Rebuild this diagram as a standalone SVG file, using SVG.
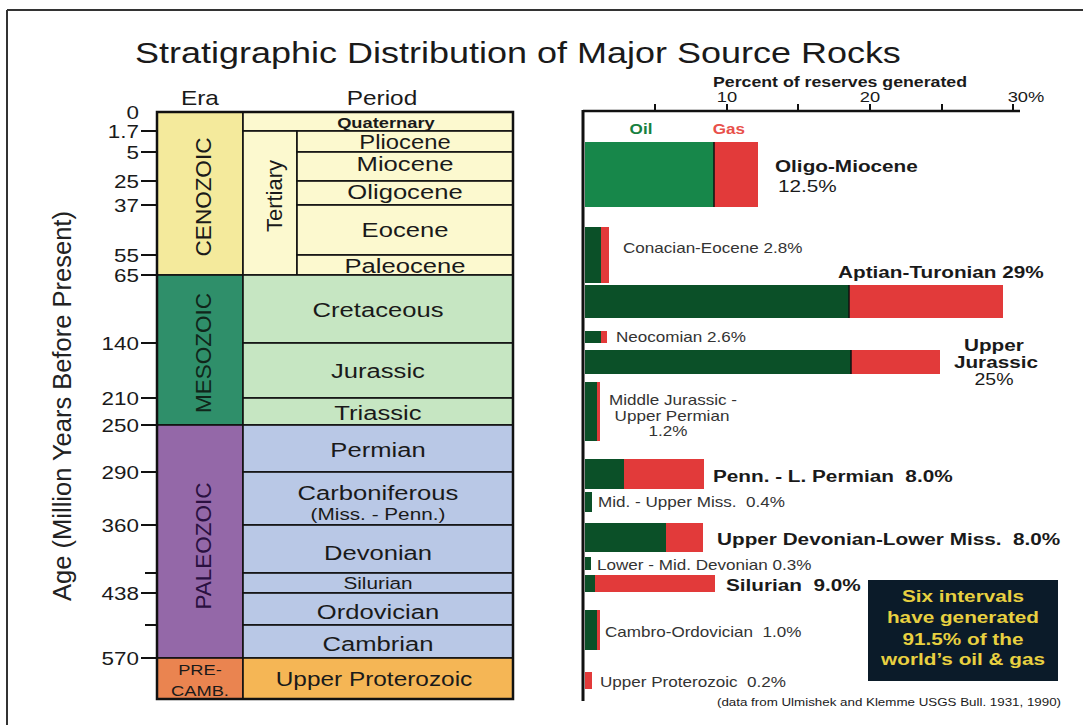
<svg xmlns="http://www.w3.org/2000/svg" width="1090" height="725" viewBox="0 0 1090 725">
<style>
text{font-family:"Liberation Sans",Arial,sans-serif;fill:#1a1a1a}
.L{transform-box:fill-box;transform-origin:0% 50%;transform:scaleX(1.22)}
.C{transform-box:fill-box;transform-origin:50% 50%;transform:scaleX(1.22);text-anchor:middle}
.R{transform-box:fill-box;transform-origin:100% 50%;transform:scaleX(1.18);text-anchor:end}
.tl{font-size:19px}
.hd{font-size:20px}
.pl{font-size:21px}
.era{font-size:22.5px;text-anchor:middle}
.cell{stroke:#111;stroke-width:1.6}
.tick{stroke:#111;stroke-width:2}
.big{font-size:17px;font-weight:bold}
.sm{font-size:14px;fill:#333}
.oil{fill:#0b5028}
.oil2{fill:#17874a}
.gas{fill:#e23a3a}
.sep{stroke:#111;stroke-width:1.5}
.box{font-size:17px;font-weight:bold;fill:#e8d040}
</style>
<rect width="1090" height="725" fill="#fff"/>
<g id="frame"><line x1="7" y1="10" x2="1083" y2="10" stroke="#333" stroke-width="2"/><line x1="7" y1="10" x2="7" y2="725" stroke="#333" stroke-width="2"/></g>
<g id="title"><text class="C" x="518" y="63" font-size="29.5">Stratigraphic Distribution of Major Source Rocks</text></g>
<g id="axis-title"><text transform="translate(71,406) rotate(-90)" font-size="25.5" text-anchor="middle" style="fill:#222">Age (Million Years Before Present)</text></g>
<g id="headers"><text class="hd C" x="200" y="105">Era</text><text class="hd C" x="382" y="105">Period</text></g>
<g id="age-ticks">
<line class="tick" x1="141" y1="131" x2="157" y2="131"/><line class="tick" x1="141" y1="152" x2="157" y2="152"/><line class="tick" x1="141" y1="181" x2="157" y2="181"/><line class="tick" x1="141" y1="205" x2="157" y2="205"/><line class="tick" x1="141" y1="255" x2="157" y2="255"/><line class="tick" x1="141" y1="275" x2="157" y2="275"/><line class="tick" x1="141" y1="343" x2="157" y2="343"/><line class="tick" x1="141" y1="398" x2="157" y2="398"/><line class="tick" x1="141" y1="425" x2="157" y2="425"/><line class="tick" x1="141" y1="472" x2="157" y2="472"/><line class="tick" x1="141" y1="525" x2="157" y2="525"/><line class="tick" x1="145" y1="573" x2="157" y2="573"/><line class="tick" x1="141" y1="593" x2="157" y2="593"/><line class="tick" x1="145" y1="625" x2="157" y2="625"/><line class="tick" x1="141" y1="658" x2="157" y2="658"/>
<text class="tl R" x="139" y="119">0</text><text class="tl R" x="139" y="138">1.7</text><text class="tl R" x="139" y="159">5</text><text class="tl R" x="139" y="188">25</text><text class="tl R" x="139" y="212">37</text><text class="tl R" x="139" y="262">55</text><text class="tl R" x="139" y="282">65</text><text class="tl R" x="139" y="350">140</text><text class="tl R" x="139" y="405">210</text><text class="tl R" x="139" y="432">250</text><text class="tl R" x="139" y="479">290</text><text class="tl R" x="139" y="532">360</text><text class="tl R" x="139" y="600">438</text><text class="tl R" x="139" y="665">570</text>
</g>
<g id="era-cenozoic"><rect class="cell" x="157" y="112" width="86" height="163" fill="#f4ea9c"/><text class="era" transform="translate(211,197) rotate(-90)">CENOZOIC</text></g>
<g id="era-mesozoic"><rect class="cell" x="157" y="275" width="86" height="150" fill="#2f8f6a"/><text class="era" transform="translate(211,353) rotate(-90)" style="fill:#10261a">MESOZOIC</text></g>
<g id="era-paleozoic"><rect class="cell" x="157" y="425" width="86" height="233" fill="#9468a8"/><text class="era" transform="translate(211,546) rotate(-90)" style="fill:#2a1040">PALEOZOIC</text></g>
<g id="era-precamb"><rect class="cell" x="157" y="658" width="86" height="41" fill="#ea8450"/><text class="C" x="200" y="675" font-size="15">PRE-</text><text class="C" x="200" y="696" font-size="15">CAMB.</text></g>
<g id="p-quaternary"><rect class="cell" x="243" y="112" width="270" height="19" fill="#fcf9cf"/><text class="C" x="386" y="128" font-size="15" font-weight="bold">Quaternary</text></g>
<g id="p-tertiary"><rect class="cell" x="243" y="131" width="54" height="144" fill="#fcf9cf"/><text transform="translate(282,196) rotate(-90)" font-size="22" text-anchor="middle">Tertiary</text></g>
<g id="p-pliocene"><rect class="cell" x="297" y="131" width="216" height="21" fill="#fcf9cf"/><text class="C" x="405" y="149" font-size="19.5">Pliocene</text></g>
<g id="p-miocene"><rect class="cell" x="297" y="152" width="216" height="29" fill="#fcf9cf"/><text class="pl C" x="405" y="171">Miocene</text></g>
<g id="p-oligocene"><rect class="cell" x="297" y="181" width="216" height="24" fill="#fcf9cf"/><text class="pl C" x="405" y="199">Oligocene</text></g>
<g id="p-eocene"><rect class="cell" x="297" y="205" width="216" height="50" fill="#fcf9cf"/><text class="pl C" x="405" y="237">Eocene</text></g>
<g id="p-paleocene"><rect class="cell" x="297" y="255" width="216" height="20" fill="#fcf9cf"/><text class="pl C" x="405" y="273">Paleocene</text></g>
<g id="p-cretaceous"><rect class="cell" x="243" y="275" width="270" height="68" fill="#c6e6c2"/><text class="pl C" x="378" y="317">Cretaceous</text></g>
<g id="p-jurassic"><rect class="cell" x="243" y="343" width="270" height="55" fill="#c6e6c2"/><text class="pl C" x="378" y="378">Jurassic</text></g>
<g id="p-triassic"><rect class="cell" x="243" y="398" width="270" height="27" fill="#c6e6c2"/><text class="pl C" x="378" y="420">Triassic</text></g>
<g id="p-permian"><rect class="cell" x="243" y="425" width="270" height="47" fill="#b9c8e6"/><text class="pl C" x="378" y="457">Permian</text></g>
<g id="p-carboniferous"><rect class="cell" x="243" y="472" width="270" height="53" fill="#b9c8e6"/><text class="pl C" x="378" y="500">Carboniferous</text><text class="C" x="378" y="520" font-size="17">(Miss. - Penn.)</text></g>
<g id="p-devonian"><rect class="cell" x="243" y="525" width="270" height="48" fill="#b9c8e6"/><text class="pl C" x="378" y="560">Devonian</text></g>
<g id="p-silurian"><rect class="cell" x="243" y="573" width="270" height="20" fill="#b9c8e6"/><text class="C" x="378" y="589" font-size="17">Silurian</text></g>
<g id="p-ordovician"><rect class="cell" x="243" y="593" width="270" height="32" fill="#b9c8e6"/><text class="pl C" x="378" y="619">Ordovician</text></g>
<g id="p-cambrian"><rect class="cell" x="243" y="625" width="270" height="33" fill="#b9c8e6"/><text class="pl C" x="378" y="651">Cambrian</text></g>
<g id="p-proterozoic"><rect class="cell" x="243" y="658" width="270" height="41" fill="#f5b655"/><text class="C" x="374" y="686" font-size="20">Upper Proterozoic</text></g>
<rect x="157" y="112" width="356" height="587" fill="none" stroke="#111" stroke-width="2.5"/>
<g id="pct-axis">
<line x1="583" y1="111" x2="1020" y2="111" stroke="#111" stroke-width="2.5"/>
<line x1="583" y1="110" x2="583" y2="701" stroke="#111" stroke-width="3"/>
<line class="tick" x1="655" y1="111" x2="655" y2="104"/><line class="tick" x1="727" y1="111" x2="727" y2="104"/><line class="tick" x1="798" y1="111" x2="798" y2="104"/><line class="tick" x1="870" y1="111" x2="870" y2="104"/><line class="tick" x1="942" y1="111" x2="942" y2="104"/><line class="tick" x1="1013" y1="111" x2="1013" y2="104"/>
<text x="713" y="87" font-size="14" font-weight="bold" textLength="254" lengthAdjust="spacingAndGlyphs">Percent of reserves generated</text>
<text class="C" x="727" y="102" font-size="15">10</text><text class="C" x="870" y="102" font-size="15">20</text><text class="C" x="1026" y="102" font-size="15">30%</text>
<text class="C" x="641" y="134" font-size="14" font-weight="bold" style="fill:#17803f">Oil</text>
<text class="C" x="729" y="134" font-size="14" font-weight="bold" style="fill:#e8504a">Gas</text>
</g>
<g id="b-oligo-miocene"><rect class="oil2" x="585" y="142" width="129" height="65"/><rect class="gas" x="714" y="142" width="44" height="65"/><line class="sep" x1="714" y1="142" x2="714" y2="207"/><text class="big L" x="775" y="172">Oligo-Miocene</text><text class="L" x="778" y="192" font-size="17">12.5%</text></g>
<g id="b-conacian-eocene"><rect class="oil" x="585" y="227" width="16" height="56"/><rect class="gas" x="601" y="227" width="8" height="56"/><text class="sm L" x="623" y="253">Conacian-Eocene 2.8%</text></g>
<g id="b-aptian-turonian"><rect class="oil" x="585" y="285" width="264" height="33"/><rect class="gas" x="849" y="285" width="154" height="33"/><line class="sep" x1="849" y1="285" x2="849" y2="318"/><text class="big L" x="838" y="278">Aptian-Turonian 29%</text></g>
<g id="b-neocomian"><rect class="oil" x="585" y="331" width="16" height="12"/><rect class="gas" x="601" y="331" width="6" height="12"/><text class="sm L" x="616" y="342">Neocomian 2.6%</text></g>
<g id="b-upper-jurassic"><rect class="oil" x="585" y="350" width="266" height="24"/><rect class="gas" x="851" y="350" width="89" height="24"/><line class="sep" x1="851" y1="350" x2="851" y2="374"/><text class="big C" x="994" y="351" font-size="15.5">Upper</text><text class="big C" x="996" y="368" font-size="15.5">Jurassic</text><text class="C" x="994" y="385" font-size="16">25%</text></g>
<g id="b-mid-jurassic"><rect class="oil" x="585" y="382" width="12" height="59"/><rect class="gas" x="597" y="382" width="3" height="59"/><text class="sm C" x="673" y="405">Middle Jurassic -</text><text class="sm C" x="672" y="421">Upper Permian</text><text class="sm C" x="668" y="436">1.2%</text></g>
<g id="b-penn-permian"><rect class="oil" x="585" y="459" width="39" height="30"/><rect class="gas" x="624" y="459" width="80" height="30"/><text class="big L" x="713" y="482" xml:space="preserve">Penn. - L. Permian  8.0%</text></g>
<g id="b-mid-upper-miss"><rect class="oil" x="585" y="492" width="7" height="20"/><text class="sm L" x="598" y="507" xml:space="preserve">Mid. - Upper Miss.  0.4%</text></g>
<g id="b-upper-devonian"><rect class="oil" x="585" y="523" width="81" height="29"/><rect class="gas" x="666" y="523" width="37" height="29"/><text class="big L" x="717" y="545" font-size="18" xml:space="preserve">Upper Devonian-Lower Miss.  8.0%</text></g>
<g id="b-lower-mid-devonian"><rect class="oil" x="585" y="557" width="6" height="13"/><text class="sm L" x="597" y="570" font-size="12.8">Lower - Mid. Devonian 0.3%</text></g>
<g id="b-silurian"><rect class="oil" x="585" y="575" width="10" height="17"/><rect class="gas" x="595" y="575" width="120" height="17"/><text class="big L" x="726" y="591" xml:space="preserve">Silurian  9.0%</text></g>
<g id="b-cambro-ordovician"><rect class="oil" x="585" y="610" width="12" height="40"/><rect class="gas" x="597" y="610" width="3" height="40"/><text class="sm L" x="605" y="637" font-size="14.5" xml:space="preserve">Cambro-Ordovician  1.0%</text></g>
<g id="b-upper-proterozoic"><rect class="gas" x="585" y="672" width="7" height="17"/><text class="sm L" x="600" y="687" font-size="14.5" xml:space="preserve">Upper Proterozoic  0.2%</text></g>
<g id="note"><rect x="868" y="580" width="190" height="101" fill="#0b1b29"/><text class="box C" x="963" y="602">Six intervals</text><text class="box C" x="963" y="623">have generated</text><text class="box C" x="963" y="645">91.5% of the</text><text class="box C" x="963" y="665">world’s oil &amp; gas</text></g>
<g id="source"><text x="717" y="706" font-size="11" textLength="344" lengthAdjust="spacingAndGlyphs">(data from Ulmishek and Klemme USGS Bull. 1931, 1990)</text></g>
</svg>
